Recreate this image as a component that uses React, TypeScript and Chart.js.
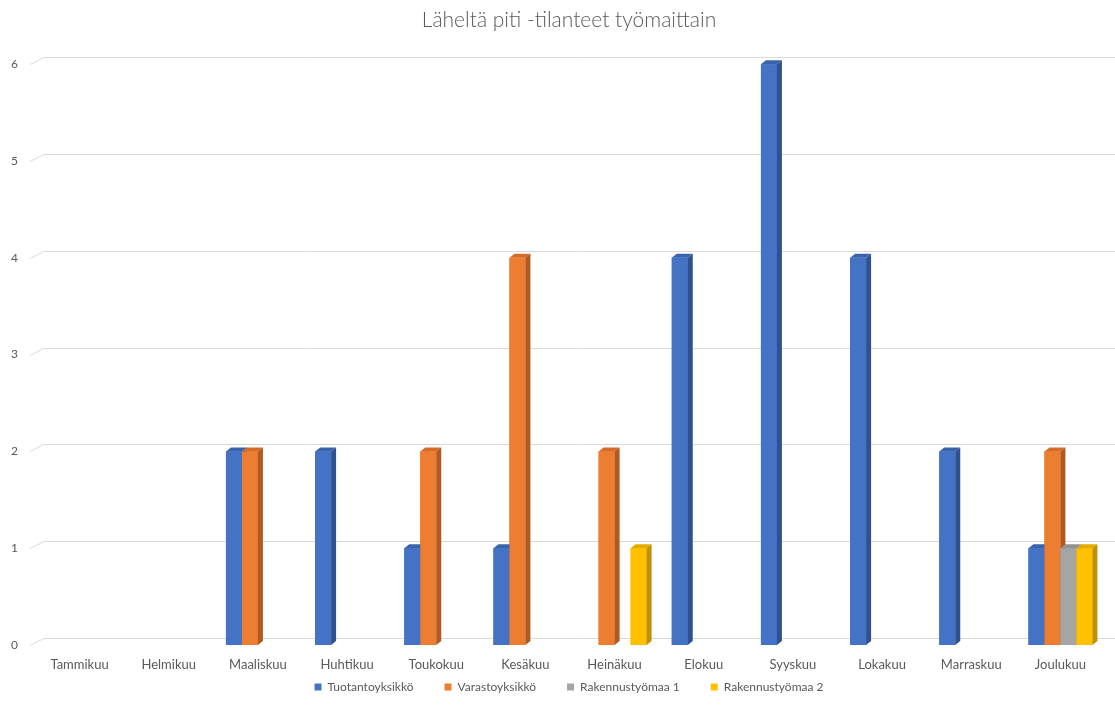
import React, { useEffect, useRef } from "react";
import { Chart, registerables } from "chart.js";

Chart.register(...registerables);

const TITLE = "Läheltä piti -tilanteet työmaittain";
const MONTHS = [
  "Tammikuu", "Helmikuu", "Maaliskuu", "Huhtikuu", "Toukokuu", "Kesäkuu",
  "Heinäkuu", "Elokuu", "Syyskuu", "Lokakuu", "Marraskuu", "Joulukuu",
];
const SERIES_NAMES = ["Tuotantoyksikkö", "Varastoyksikkö", "Rakennustyömaa 1", "Rakennustyömaa 2"];
const TUOTANTO = [0, 0, 2, 2, 1, 1, 0, 4, 6, 4, 2, 1];
const VARASTO = [0, 0, 2, 0, 2, 4, 2, 0, 0, 0, 0, 2];
const RAKENNUS1 = [0, 0, 0, 0, 0, 0, 0, 0, 0, 0, 0, 1];
const RAKENNUS2 = [0, 0, 0, 0, 0, 0, 1, 0, 0, 0, 0, 1];
const Y_TICKS = [0, 1, 2, 3, 4, 5, 6];

const FRONT = ["#4472C4", "#ED7D31", "#A5A5A5", "#FFC000"];
const TOP = ["#3A63AE", "#D46C27", "#929292", "#E3AB00"];
const SIDE = ["#2F528F", "#AE5A21", "#7C7C7C", "#BF9000"];

const FONT = "Lato, 'Open Sans', sans-serif";
const DX = 5;
const DY = 4;

const gridPlugin = {
  id: "wallGrid",
  beforeDatasetsDraw(chart: any) {
    const { ctx, chartArea, scales } = chart;
    const y = scales.y;
    ctx.save();
    ctx.strokeStyle = "#D9D9D9";
    ctx.lineWidth = 1;
    for (const v of Y_TICKS) {
      const py = Math.round(y.getPixelForValue(v)) + 0.5;
      ctx.beginPath();
      ctx.moveTo(chartArea.left - 5, py);
      ctx.lineTo(chartArea.left + 9, py - 7);
      ctx.lineTo(chart.width, py - 7);
      ctx.stroke();
    }
    ctx.restore();
  },
};

const bar3dPlugin = {
  id: "bar3d",
  afterDatasetsDraw(chart: any) {
    const { ctx } = chart;
    const metas = chart.data.datasets.map((_: any, i: number) => chart.getDatasetMeta(i));
    const n = chart.data.labels.length;
    ctx.save();
    for (let j = 0; j < n; j++) {
      metas.forEach((meta: any, di: number) => {
        const el = meta.data[j];
        if (!el) return;
        const { x, y, base, width } = el.getProps(["x", "y", "base", "width"], true);
        if (Math.abs(base - y) < 0.5) return;
        const l = x - width / 2;
        const r = x + width / 2;
        const t = Math.min(y, base);
        const b = Math.max(y, base);
        ctx.fillStyle = FRONT[di];
        ctx.fillRect(l, t, r - l, b - t);
        ctx.fillStyle = TOP[di];
        ctx.beginPath();
        ctx.moveTo(l, t);
        ctx.lineTo(l + DX, t - DY);
        ctx.lineTo(r + DX, t - DY);
        ctx.lineTo(r, t);
        ctx.closePath();
        ctx.fill();
        ctx.fillStyle = SIDE[di];
        ctx.beginPath();
        ctx.moveTo(r, t);
        ctx.lineTo(r + DX, t - DY);
        ctx.lineTo(r + DX, b - DY);
        ctx.lineTo(r, b);
        ctx.closePath();
        ctx.fill();
      });
    }
    ctx.restore();
  },
};

export default function App() {
  const ref = useRef<HTMLCanvasElement | null>(null);
  useEffect(() => {
    if (!ref.current) return;
    const values = [TUOTANTO, VARASTO, RAKENNUS1, RAKENNUS2];
    const chart = new Chart(ref.current, {
      type: "bar",
      data: {
        labels: MONTHS,
        datasets: SERIES_NAMES.map((name, i) => ({
          label: name,
          data: values[i],
          backgroundColor: FRONT[i],
          borderWidth: 0,
          categoryPercentage: 0.7175,
          barPercentage: 1,
        })),
      },
      options: {
        responsive: false,
        animation: false,
        layout: { padding: { left: 33, right: 10, top: 0, bottom: 5 } },
        plugins: {
          title: {
            display: true,
            text: TITLE,
            color: "#595959",
            font: { family: FONT, size: 21, weight: "300" },
            padding: { top: 8, bottom: 31 },
          },
          legend: {
            position: "bottom",
            labels: {
              boxWidth: 7,
              boxHeight: 7,
              padding: 31,
              color: "#595959",
              font: { family: FONT, size: 12 },
            },
          },
          tooltip: { enabled: false },
        },
        scales: {
          x: {
            grid: { display: false, drawTicks: false },
            border: { display: false },
            ticks: {
              color: "#595959",
              font: { family: FONT, size: 13 },
              mirror: true,
              padding: -28,
              maxRotation: 0,
              autoSkip: false,
            },
            afterFit: (axis: any) => { axis.height = 5; },
          },
          y: {
            min: 0,
            max: 6,
            grid: { display: false, drawTicks: false },
            border: { display: false },
            ticks: {
              stepSize: 1,
              color: "#595959",
              font: { family: FONT, size: 12 },
              mirror: true,
              padding: -24,
            },
            afterFit: (axis: any) => { axis.width = 2; },
          },
        },
      },
      plugins: [gridPlugin, bar3dPlugin],
    });
    return () => chart.destroy();
  }, []);
  return (
    <div style={{ position: "fixed", left: 0, top: 0, width: 1115, height: 708, background: "#fff" }}>
      <canvas ref={ref} width={1115} height={708} />
    </div>
  );
}
